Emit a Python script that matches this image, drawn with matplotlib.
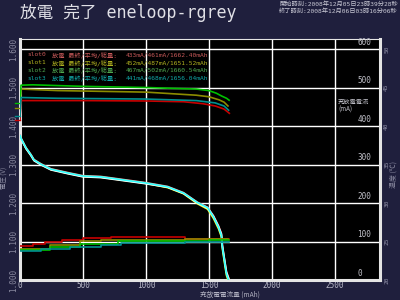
import matplotlib
matplotlib.use('Agg')
import matplotlib.pyplot as plt

BG = '#1f1f3d'
MONO_CJK = ['DejaVu Sans Mono', 'Noto Sans CJK JP']
CJK = ['Noto Sans CJK JP', 'DejaVu Sans']

# ---------------- data ----------------
slots = ['slot0', 'slot1', 'slot2', 'slot3']
final_mA = [433, 452, 467, 441]
avg_mA = [461, 487, 502, 468]
cap_mAh = [1662.40, 1651.52, 1660.54, 1656.04]

# voltage curves (mAh, V)
v_mAh = [0, 8, 48, 87, 111, 166, 245, 380, 499, 641, 776, 998, 1172, 1298,
         1409, 1489, 1536, 1576, 1599, 1607, 1623, 1639]
v_slot0 = [1.378, 1.369, 1.344, 1.326, 1.313, 1.302, 1.289, 1.279, 1.271, 1.269, 1.263, 1.253,
           1.243, 1.227, 1.202, 1.189, 1.167, 1.141, 1.121, 1.090, 1.056, 1.022]
v_slot1 = [1.376, 1.367, 1.342, 1.324, 1.311, 1.300, 1.287, 1.277, 1.269, 1.267, 1.261, 1.251,
           1.240, 1.224, 1.198, 1.184, 1.160, 1.133, 1.112, 1.080, 1.045, 1.012]
v_slot2 = [1.375, 1.366, 1.341, 1.323, 1.310, 1.299, 1.286, 1.276, 1.268, 1.266, 1.260, 1.250,
           1.241, 1.225, 1.200, 1.187, 1.165, 1.139, 1.119, 1.088, 1.054, 1.020]
v_slot3 = [1.377, 1.368, 1.343, 1.325, 1.312, 1.301, 1.288, 1.278, 1.270, 1.268, 1.262, 1.252,
           1.242, 1.226, 1.201, 1.188, 1.164, 1.137, 1.116, 1.084, 1.050, 1.016]
v_end = [1.000, 1.000, 1.000, 1.000]

# current curves (mAh, mA)
i_mAh_0 = [0, 8, 500, 1000, 1300, 1450, 1550, 1620, 1662]
i_slot0 = [416, 466, 466, 465, 463, 458, 452, 444, 433]
i_mAh_1 = [0, 8, 300, 1000, 1400, 1500, 1580, 1620, 1651]
i_slot1 = [447, 496, 492, 488, 480, 476, 468, 462, 452]
i_mAh_2 = [0, 8, 100, 500, 1000, 1400, 1500, 1560, 1600, 1640, 1660]
i_slot2 = [460, 506, 507, 503, 500, 496, 492, 485, 478, 472, 467]
i_mAh_3 = [0, 8, 300, 1000, 1400, 1550, 1620, 1656]
i_slot3 = [426, 474, 472, 470, 466, 460, 452, 441]

# temperature curves (mAh, degC)
t_mAh_0 = [0, 100, 200, 330, 500, 720, 1310, 1662]
t_slot0 = [24.4, 24.7, 24.9, 25.2, 25.4, 25.6, 25.3, 25.3]
t_mAh_1 = [0, 240, 480, 640, 1310, 1651]
t_slot1 = [24.0, 24.5, 25.05, 25.2, 25.3, 25.3]
t_mAh_2 = [0, 240, 480, 780, 1500, 1660]
t_slot2 = [23.9, 24.3, 24.7, 25.1, 25.2, 25.2]
t_mAh_3 = [0, 170, 400, 640, 800, 1310, 1656]
t_slot3 = [23.8, 24.0, 24.3, 24.5, 24.8, 25.0, 25.0]

x_ticks = [0, 500, 1000, 1500, 2000, 2500]
v_ticks = [1.0, 1.1, 1.2, 1.3, 1.4, 1.5, 1.6]
v_labels = ['1.000', '1.100', '1.200', '1.300', '1.400', '1.500', '1.600']
i_ticks = [0, 100, 200, 300, 400, 500, 600]
t_ticks = [20, 25, 30, 35, 40, 45, 50]

volt_colors = ['#ff8a8a', '#ffff30', '#ffffff', '#30ffff']
line_colors = ['#c80000', '#8c8c00', '#00c000', '#009090']
text_colors = ['#c85a5a', '#b0b020', '#50a850', '#10a8a8']

# ---------------- figure ----------------
fig = plt.figure(figsize=(4, 3), dpi=100, facecolor=BG)
ax = fig.add_axes([20 / 400, 1 - 280 / 300, 360 / 400, 241 / 300])
ax.set_facecolor('black')
ax.set_xlim(0, 2858)
ax.set_ylim(1.0, 1.626)
ax.set_xticks(x_ticks)
ax.set_xticklabels([str(t) for t in x_ticks], fontsize=5.5, color='#b8b8c8',
                   family='DejaVu Sans Mono')
ax.set_yticks(v_ticks)
ax.set_yticklabels(v_labels, rotation=90, va='center', fontsize=5.5, color='#8a8aa0',
                   family='DejaVu Sans Mono')
ax.tick_params(axis='x', length=0, pad=0.5)
ax.tick_params(axis='y', length=0, pad=1.5)
ax.grid(True, color='white', lw=1.0)
ax.set_axisbelow(True)
for side, sp in ax.spines.items():
    sp.set_color('#e4e4e4')
    sp.set_linewidth(0.8 if side == 'top' else 2.2)

v_all = [v_slot0, v_slot1, v_slot2, v_slot3]
for k in range(4):
    ax.plot(v_mAh + [cap_mAh[k]], v_all[k] + [v_end[k]], color=volt_colors[k], lw=1.2,
            solid_capstyle='butt', zorder=3)

axI = ax.twinx()
axI.set_ylim(0, 626)
axI.set_yticks([])
axI.patch.set_visible(False)
for sp in axI.spines.values():
    sp.set_visible(False)
i_x = [i_mAh_0, i_mAh_1, i_mAh_2, i_mAh_3]
i_y = [i_slot0, i_slot1, i_slot2, i_slot3]
for k in range(4):
    axI.plot(i_x[k], i_y[k], color=line_colors[k], lw=1.2)
    axI.plot([-0.014, 0.0], [i_y[k][0]] * 2, color=line_colors[k], lw=1.0,
             transform=axI.get_yaxis_transform(), clip_on=False)
for t in i_ticks:
    axI.annotate(str(t), xy=(0.937, t), xycoords=axI.get_yaxis_transform(),
                 xytext=(0, 1.5), textcoords='offset points', ha='left', va='bottom',
                 fontsize=5.5, color='#c0c0c8', family='DejaVu Sans Mono')

axT = ax.twinx()
axT.set_ylim(20, 20 + 0.626 * 50)
axT.patch.set_visible(False)
for sp in axT.spines.values():
    sp.set_visible(False)
axT.set_yticks(t_ticks)
axT.set_yticklabels([str(t) for t in t_ticks], rotation=90, va='center', fontsize=4.5,
                    color='#9090a8', family='DejaVu Sans Mono')
axT.tick_params(axis='y', length=0, pad=3)
t_x = [t_mAh_0, t_mAh_1, t_mAh_2, t_mAh_3]
t_y = [t_slot0, t_slot1, t_slot2, t_slot3]
for k in range(4):
    axT.plot(t_x[k], t_y[k], color=line_colors[k], lw=1.2, drawstyle='steps-post')

# ---------------- texts ----------------
fig.text(20 / 400, 1 - 13 / 300, '放電 完了 eneloop-rgrey', fontsize=12, color='#e0e0e6',
         family=MONO_CJK, ha='left', va='center')
fig.text(398 / 400, 1 - 4.5 / 300, '開始時刻:2008年12月05日23時39分28秒', fontsize=4.5,
         color='#c8c8d4', family=MONO_CJK, ha='right', va='center')
fig.text(398 / 400, 1 - 11 / 300, '終了時刻:2008年12月06日03時16分06秒', fontsize=4.5,
         color='#c8c8d4', family=MONO_CJK, ha='right', va='center')

leg_y = [55, 63, 70, 78]
for k in range(4):
    y = 1 - leg_y[k] / 300
    fig.text(27 / 400, y, slots[k], fontsize=4.5, color=text_colors[k], family=MONO_CJK,
             va='center')
    fig.text(52 / 400, y, '放電 最終/平均/総量:', fontsize=4.5, color=text_colors[k],
             family=MONO_CJK, va='center')
    fig.text(126 / 400, y, f'{final_mA[k]}mA/{avg_mA[k]}mA/{cap_mAh[k]:.2f}mAh', fontsize=4.5,
             color=text_colors[k], family=MONO_CJK, va='center')

fig.text(338 / 400, 1 - 106 / 300, '充放電電流\n(mA)', fontsize=4.5, color='#c0c0c8',
         family=CJK, ha='left', va='center', linespacing=1.0)
fig.text(230 / 400, 1 - 294.5 / 300, '充放電電流量 (mAh)', fontsize=4.8, color='#b0b0c0',
         family=CJK, ha='center', va='center')
fig.text(4.5 / 400, 1 - 178 / 300, '電圧 (V)', fontsize=4.6, color='#8a8aa0', family=CJK,
         rotation=90, ha='center', va='center')
fig.text(394 / 400, 1 - 175 / 300, '温度 (℃)', fontsize=5, color='#8a8aa0', family=CJK,
         rotation=90, ha='center', va='center')

fig.savefig('out.png', dpi=100, facecolor=BG)
